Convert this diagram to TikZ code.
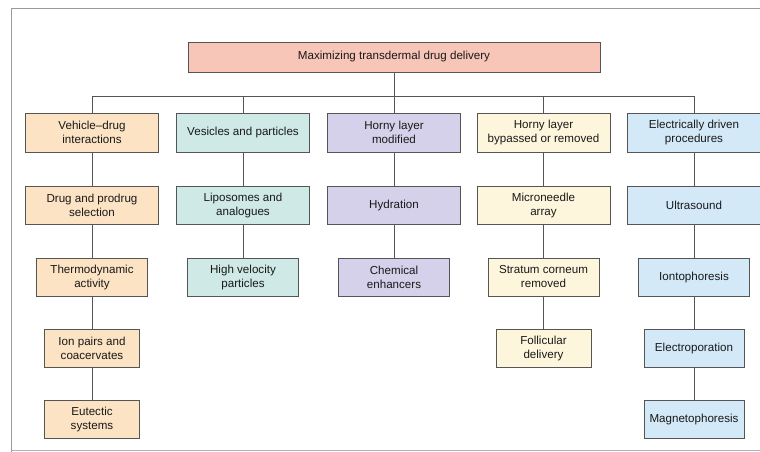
\documentclass[tikz,border=0pt]{standalone}
\usepackage{fontspec}
\setmainfont{Liberation Sans}
\definecolor{csalmon}{HTML}{F8C6B8}
\definecolor{cpeach}{HTML}{FCE3C4}
\definecolor{cteal}{HTML}{CFE9E6}
\definecolor{clav}{HTML}{D6D1EA}
\definecolor{ccream}{HTML}{FEF6DC}
\definecolor{cblue}{HTML}{D3E9F8}
\definecolor{cline}{HTML}{555555}
\begin{document}
\begin{tikzpicture}[x=1pt,y=1pt,
  bx/.style={draw=cline, line width=0.7pt, align=center, inner sep=0pt,
    font=\fontsize{11.6}{14}\selectfont, text=black!90},
  w1/.style={minimum width=133pt, minimum height=39pt},
  w2/.style={minimum width=133pt, minimum height=38pt},
  w3/.style={minimum width=111pt, minimum height=38pt},
  w4/.style={minimum width=95pt, minimum height=38pt},
  w5/.style={minimum width=100pt, minimum height=38pt},
  conn/.style={draw=cline, line width=0.7pt}]
\useasboundingbox (0,0) rectangle (760,-452);
% frame
\draw[gray!80, line width=0.8pt] (760,-8) -- (11,-8) -- (11,-452);
\draw[gray!60, line width=0.8pt] (11,-450) -- (760,-450);
% top
\node[bx, fill=csalmon, minimum width=412pt, minimum height=30pt] (top) at (394,-57) {Maximizing transdermal drug delivery};
% row 1
\node[bx, w1, fill=cpeach] (a1) at (92,-132.5) {Vehicle--drug\\interactions};
\node[bx, w1, fill=cteal] (b1) at (243,-132.5) {Vesicles and particles};
\node[bx, w1, fill=clav] (c1) at (394,-132.5) {Horny layer\\modified};
\node[bx, w1, fill=ccream] (d1) at (543.5,-132.5) {Horny layer\\bypassed or removed};
\node[bx, w1, fill=cblue] (e1) at (694,-132.5) {Electrically driven\\procedures};
% row 2
\node[bx, w2, fill=cpeach] (a2) at (92,-205) {Drug and prodrug\\selection};
\node[bx, w2, fill=cteal] (b2) at (243,-205) {Liposomes and\\analogues};
\node[bx, w2, fill=clav] (c2) at (394,-205) {Hydration};
\node[bx, w2, fill=ccream] (d2) at (543.5,-205) {Microneedle\\array};
\node[bx, w2, fill=cblue] (e2) at (694,-205) {Ultrasound};
% row 3
\node[bx, w3, fill=cpeach] (a3) at (92,-277) {Thermodynamic\\activity};
\node[bx, w3, fill=cteal] (b3) at (243,-277) {High velocity\\particles};
\node[bx, w3, fill=clav] (c3) at (394,-277) {Chemical\\enhancers};
\node[bx, w3, fill=ccream] (d3) at (543.5,-277) {Stratum corneum\\removed};
\node[bx, w3, fill=cblue] (e3) at (694,-277) {Iontophoresis};
% row 4
\node[bx, w4, fill=cpeach] (a4) at (92,-348) {Ion pairs and\\coacervates};
\node[bx, w4, fill=ccream] (d4) at (543.5,-348) {Follicular\\delivery};
\node[bx, w5, fill=cblue] (e4) at (694,-348) {Electroporation};
% row 5
\node[bx, w4, fill=cpeach] (a5) at (92,-419) {Eutectic\\systems};
\node[bx, w5, fill=cblue] (e5) at (694,-419) {Magnetophoresis};
% bus
\coordinate (busL) at (92,-96);
\coordinate (busR) at (694,-96);
\draw[conn] (busL) -- (busR);
\draw[conn] (top.south) -- (top.south |- busL);
\foreach \n in {a1,b1,c1,d1,e1}{\draw[conn] (\n.north) -- (\n.north |- busL);}
\draw[conn] (a1) -- (a2); \draw[conn] (a2) -- (a3); \draw[conn] (a3) -- (a4); \draw[conn] (a4) -- (a5);
\draw[conn] (b1) -- (b2); \draw[conn] (b2) -- (b3);
\draw[conn] (c1) -- (c2); \draw[conn] (c2) -- (c3);
\draw[conn] (d1) -- (d2); \draw[conn] (d2) -- (d3); \draw[conn] (d3) -- (d4);
\draw[conn] (e1) -- (e2); \draw[conn] (e2) -- (e3); \draw[conn] (e3) -- (e4); \draw[conn] (e4) -- (e5);
\end{tikzpicture}
\end{document}
